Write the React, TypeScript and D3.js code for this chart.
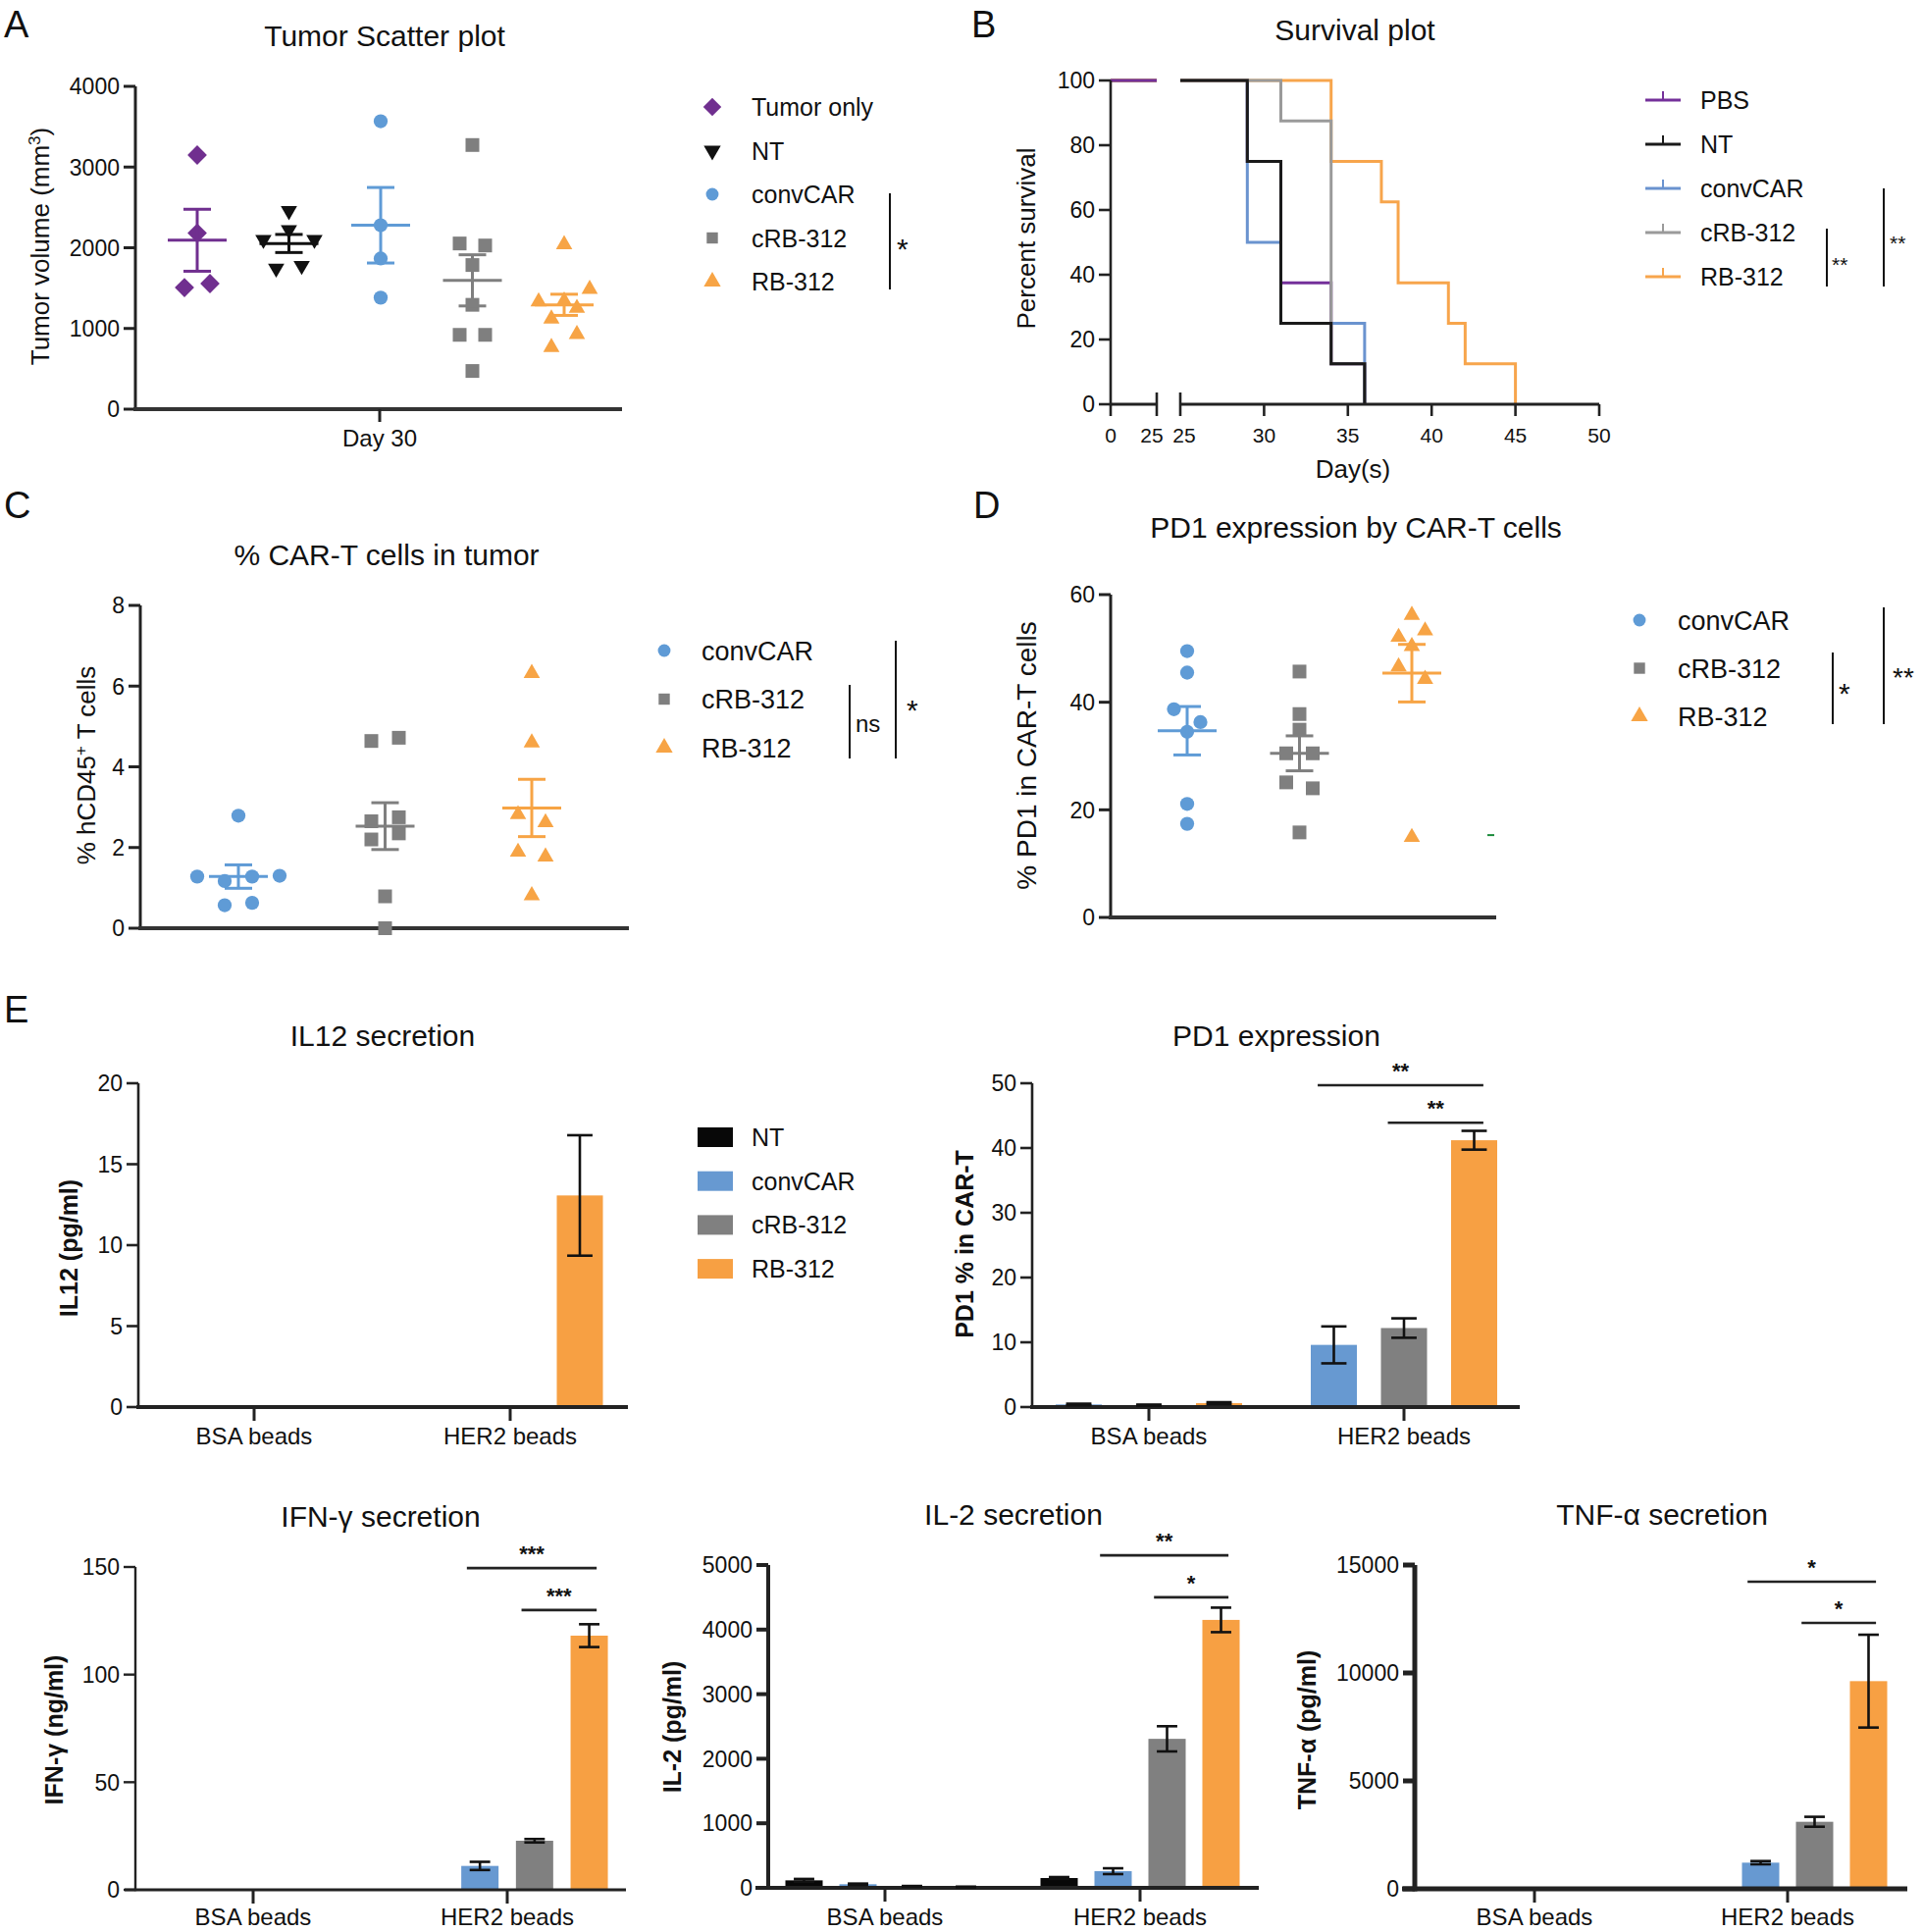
import React from "react";
import * as d3 from "d3";

const FONT = "'Liberation Sans', Arial, Helvetica, sans-serif";

// ---------------- Panel A: tumor volume ----------------
const groupsA = ["Tumor only", "NT", "convCAR", "cRB-312", "RB-312"];
const volTumorOnly = [3149, 2182, 1507, 1556];
const volNT = [2457, 2101, 2222, 2101, 1745, 1778];
const volConvCAR = [3568, 2279, 1867, 1382];
const volCRB = [3273, 2053, 2028, 1786, 1293, 921, 921, 473];
const volRB = [2040, 1333, 1341, 1487, 1119, 1252, 768, 929];
const volMean = [2093, 2053, 2279, 1596, 1293];
const volSem = [384, 112, 468, 317, 131];
const ticksA = [0, 1000, 2000, 3000, 4000];
const catA = ["Day 30"];

// ---------------- Panel B: survival ----------------
const survGroups = ["PBS", "NT", "convCAR", "cRB-312", "RB-312"];
const survDaysPBS = [0, 29, 31, 34, 36];
const survPctPBS = [100, 75, 37.5, 12.5, 0];
const survDaysNT = [0, 29, 31, 34, 36];
const survPctNT = [100, 75, 25, 12.5, 0];
const survDaysConv = [0, 29, 31, 36];
const survPctConv = [100, 50, 25, 0];
const survDaysCRB = [0, 31, 34, 36];
const survPctCRB = [100, 87.5, 12.5, 0];
const survDaysRB = [0, 34, 37, 38, 41, 42, 45];
const survPctRB = [100, 75, 62.5, 37.5, 25, 12.5, 0];
const ticksBY = [0, 20, 40, 60, 80, 100];
const ticksBX1 = [0, 25];
const ticksBX2 = [25, 30, 35, 40, 45, 50];

// ---------------- Panel C: % CAR-T ----------------
const groupsCD = ["convCAR", "cRB-312", "RB-312"];
const cd45Conv = [2.79, 1.28, 1.17, 1.28, 1.3, 0.57, 0.63];
const cd45CRB = [4.64, 4.72, 2.65, 2.75, 2.2, 2.35, 0.79, 0];
const cd45RB = [6.32, 4.6, 2.82, 2.62, 1.89, 1.77, 0.81];
const cd45Mean = [1.28, 2.53, 2.98];
const cd45Sem = [0.29, 0.58, 0.71];
const ticksC = [0, 2, 4, 6, 8];

// ---------------- Panel D: PD1 in vivo ----------------
const pd1Conv = [49.5, 45.5, 38.7, 36.3, 34.5, 21.1, 17.4];
const pd1CRB = [45.7, 37.8, 34.9, 30.5, 30.5, 25.1, 24.0, 15.8];
const pd1RB = [56.2, 52.1, 53.3, 50.4, 46.6, 44.3, 14.9];
const pd1Mean = [34.7, 30.5, 45.4];
const pd1Sem = [4.5, 3.25, 5.35];
const pd1Stray = [15.3];
const ticksD = [0, 20, 40, 60];

// ---------------- Panel E: bars ----------------
const beadCats = ["BSA beads", "HER2 beads"];
const series4 = ["NT", "convCAR", "cRB-312", "RB-312"];
const series3 = ["convCAR", "cRB-312", "RB-312"];

const il12Bsa = [0, 0, 0];
const il12Her2 = [0, 0, 13.07];
const il12BsaSem = [0, 0, 0];
const il12Her2Sem = [0, 0, 3.72];
const ticksIL12 = [0, 5, 10, 15, 20];

const pd1vBsa = [0.4, 0.3, 0.6];
const pd1vHer2 = [9.6, 12.2, 41.2];
const pd1vBsaSem = [0.12, 0.08, 0.15];
const pd1vHer2Sem = [2.85, 1.5, 1.45];
const ticksPD1 = [0, 10, 20, 30, 40, 50];
const sigPD1 = [["convCAR", "RB-312", "**", 49.7], ["cRB-312", "RB-312", "**", 43.9]];

const ifnBsa = [0, 0, 0, 0];
const ifnHer2 = [0, 11.1, 22.8, 118.1];
const ifnBsaSem = [0, 0, 0, 0];
const ifnHer2Sem = [0, 1.9, 0.8, 5.3];
const ticksIFN = [0, 50, 100, 150];
const sigIFN = [["convCAR", "RB-312", "***", 149.5], ["cRB-312", "RB-312", "***", 130]];

const il2Bsa = [116, 56, 25, 15];
const il2Her2 = [152, 258, 2308, 4150];
const il2BsaSem = [22, 10, 4, 3];
const il2Her2Sem = [15, 45, 195, 190];
const ticksIL2 = [0, 1000, 2000, 3000, 4000, 5000];
const sigIL2 = [["convCAR", "RB-312", "**", 5150], ["cRB-312", "RB-312", "*", 4500]];

const tnfBsa = [0, 0, 0, 0];
const tnfHer2 = [0, 1212, 3106, 9621];
const tnfBsaSem = [0, 0, 0, 0];
const tnfHer2Sem = [0, 75, 230, 2150];
const ticksTNF = [0, 5000, 10000, 15000];
const sigTNF = [["convCAR", "RB-312", "*", 14230], ["cRB-312", "RB-312", "*", 12320]];

// ---------------- styles ----------------
const COL: Record<string, string> = {
  "Tumor only": "#702f8f",
  PBS: "#7a3496",
  NT: "#111111",
  convCAR: "#5f9bd6",
  "cRB-312": "#7f7f7f",
  "RB-312": "#f7a445",
};
const SURV_COL: Record<string, string> = {
  PBS: "#74309a",
  NT: "#1a1a1a",
  convCAR: "#6a93cf",
  "cRB-312": "#9a9a9a",
  "RB-312": "#f7a54c",
};
const BAR_COL: Record<string, string> = {
  NT: "#080808",
  convCAR: "#6799d1",
  "cRB-312": "#808080",
  "RB-312": "#f7a043",
};
const AX = "#222";

function symPath(kind: string, size: number) {
  const t =
    kind === "circle" ? d3.symbolCircle : kind === "square" || kind === "diamond" ? d3.symbolSquare : d3.symbolTriangle;
  return d3.symbol().type(t).size(size)() as string;
}

function Marker({ kind, x, y, color, size }: any) {
  const rot = kind === "diamond" ? 45 : kind === "down" ? 180 : 0;
  return <path d={symPath(kind, size)} transform={`translate(${x},${y}) rotate(${rot})`} fill={color} />;
}

function rowOffsets(values: number[], y: (v: number) => number, thr: number) {
  const idx = values.map((_, i) => i).sort((a, b) => values[b] - values[a]);
  const rows: number[][] = [];
  let cur: number[] = [];
  let firstY = 0;
  for (const i of idx) {
    const py = y(values[i]);
    if (cur.length && Math.abs(py - firstY) < thr) cur.push(i);
    else {
      if (cur.length) rows.push(cur);
      cur = [i];
      firstY = py;
    }
  }
  if (cur.length) rows.push(cur);
  const off = new Array(values.length).fill(0);
  rows.forEach((r) => {
    const s = [...r].sort((a, b) => a - b);
    s.forEach((i, k) => (off[i] = k - (s.length - 1) / 2));
  });
  return off;
}

function ScatterGroup({ values, mean, sem, cx, y, color, kind, size, spacing, thr, meanHW = 30, capHW = 14, sw = 3 }: any) {
  const off = rowOffsets(values, y, thr);
  return (
    <g>
      {values.map((v: number, i: number) => (
        <Marker key={i} kind={kind} x={cx + off[i] * spacing} y={y(v)} color={color} size={size} />
      ))}
      <line x1={cx - meanHW} x2={cx + meanHW} y1={y(mean)} y2={y(mean)} stroke={color} strokeWidth={sw} />
      <line x1={cx} x2={cx} y1={y(mean - sem)} y2={y(mean + sem)} stroke={color} strokeWidth={sw} />
      <line x1={cx - capHW} x2={cx + capHW} y1={y(mean + sem)} y2={y(mean + sem)} stroke={color} strokeWidth={sw} />
      <line x1={cx - capHW} x2={cx + capHW} y1={y(mean - sem)} y2={y(mean - sem)} stroke={color} strokeWidth={sw} />
    </g>
  );
}

function YAxis({ x, y, ticks, fs = 23, tickLen = 12, sw = 3, labelGap = 4, color = AX, tickSw }: any) {
  const [r0, r1] = y.range();
  return (
    <g>
      <line x1={x} x2={x} y1={r0 + sw / 2} y2={r1} stroke={color} strokeWidth={sw} />
      {ticks.map((t: number) => (
        <g key={t}>
          <line x1={x - tickLen} x2={x} y1={y(t)} y2={y(t)} stroke={color} strokeWidth={tickSw || sw} />
          <text x={x - tickLen - labelGap} y={y(t)} dy="0.36em" textAnchor="end" fontSize={fs} fill="#111">
            {t}
          </text>
        </g>
      ))}
    </g>
  );
}

function YLabel({ x, y, text, fs = 26, bold = false }: any) {
  return (
    <text
      transform={`translate(${x},${y}) rotate(-90)`}
      textAnchor="middle"
      dy="0.36em"
      fontSize={fs}
      fontWeight={bold ? "bold" : "normal"}
      fill="#111"
    >
      {text}
    </text>
  );
}

function Title({ x, y, text, fs = 30 }: any) {
  return (
    <text x={x} y={y} textAnchor="middle" fontSize={fs} fill="#111">
      {text}
    </text>
  );
}

function Letter({ x, y, t }: any) {
  return (
    <text x={x} y={y} fontSize={38} fill="#111">
      {t}
    </text>
  );
}

function VBracket({ x, y1, y2, label, lx, ly, fs = 22 }: any) {
  return (
    <g>
      <line x1={x} x2={x} y1={y1} y2={y2} stroke="#111" strokeWidth={2} />
      <text x={lx} y={ly} fontSize={fs} fill="#111">
        {label}
      </text>
    </g>
  );
}

// ---------------- bar panels ----------------
function BarPanel({
  series, bsa, her2, bsaSem, her2Sem, cats, catRange, step, bw, y, ticks, xAxis, yAxisX,
  axisSw, xSw, sig, capFrac = 0.55, fs = 23, catFs = 24, catY, tickLen = 12,
}: any) {
  const xc = d3.scalePoint().domain(cats).range(catRange);
  const n = series.length;
  const p = 1 - bw / step;
  const xi = d3
    .scaleBand()
    .domain(series)
    .range([(-n * step) / 2, (n * step) / 2])
    .paddingInner(p)
    .paddingOuter(p / 2);
  const vals = [bsa, her2];
  const sems = [bsaSem, her2Sem];
  const y0 = y(0);
  return (
    <g>
      {cats.map((c: string, ci: number) =>
        series.map((s: string, si: number) => {
          const v = vals[ci][si];
          if (v <= 0) return null;
          const x = (xc(c) as number) + (xi(s) as number);
          return <rect key={c + s} x={x} width={xi.bandwidth()} y={y(v)} height={y0 - y(v)} fill={BAR_COL[s]} />;
        })
      )}
      <YAxis x={yAxisX} y={y} ticks={ticks} fs={fs} sw={axisSw} tickLen={tickLen} />
      <line x1={xAxis[0]} x2={xAxis[1]} y1={y0} y2={y0} stroke={AX} strokeWidth={xSw} />
      {cats.map((c: string) => (
        <g key={c}>
          <line x1={xc(c)} x2={xc(c)} y1={y0} y2={y0 + tickLen + 2} stroke={AX} strokeWidth={Math.min(xSw, 3)} />
          <text x={xc(c)} y={catY} textAnchor="middle" fontSize={catFs} fill="#111">
            {c}
          </text>
        </g>
      ))}
      {cats.map((c: string, ci: number) =>
        series.map((s: string, si: number) => {
          const v = vals[ci][si];
          const e = sems[ci][si];
          if (!(e > 0)) return null;
          const cx = (xc(c) as number) + (xi(s) as number) + xi.bandwidth() / 2;
          const hw = (xi.bandwidth() * capFrac) / 2;
          return (
            <g key={"e" + c + s} stroke="#111" strokeWidth={2.6}>
              <line x1={cx} x2={cx} y1={y(v - e)} y2={y(v + e)} />
              <line x1={cx - hw} x2={cx + hw} y1={y(v + e)} y2={y(v + e)} />
              <line x1={cx - hw} x2={cx + hw} y1={y(v - e)} y2={y(v - e)} />
            </g>
          );
        })
      )}
      {(sig || []).map((sg: any, k: number) => {
        const her = cats[1];
        const cA = (xc(her) as number) + (xi(sg[0]) as number) + xi.bandwidth() * 0.15;
        const cB = (xc(her) as number) + (xi(sg[1]) as number) + xi.bandwidth() * 0.7;
        const yy = y(sg[3]);
        return (
          <g key={"s" + k}>
            <line x1={cA} x2={cB} y1={yy} y2={yy} stroke="#222" strokeWidth={2.6} />
            <text x={(cA + cB) / 2} y={yy - 7} textAnchor="middle" fontSize={22} fontWeight="bold" fill="#111">
              {sg[2]}
            </text>
          </g>
        );
      })}
    </g>
  );
}

function survPoints(days: number[], pcts: number[], lo: number, hi: number) {
  const at = (d: number) => {
    let v = pcts[0];
    days.forEach((dd, i) => {
      if (dd <= d) v = pcts[i];
    });
    return v;
  };
  const pts: [number, number][] = [[lo, at(lo)]];
  days.forEach((d, i) => {
    if (d > lo && d <= hi) pts.push([d, pcts[i]]);
  });
  if (pts[pts.length - 1][0] < hi) pts.push([hi, at(hi)]);
  return pts;
}

export default function App() {
  // ---------- Panel A ----------
  const yA = d3.scaleLinear().domain([0, 4000]).range([417, 88]);
  const xA = d3.scalePoint().domain(groupsA).range([201, 575]);
  const dataA = [volTumorOnly, volNT, volConvCAR, volCRB, volRB];
  const kindsA = ["diamond", "down", "circle", "square", "triangle"];
  const sizesA = [196, 120, 160, 196, 120];

  // ---------- Panel B ----------
  const yB = d3.scaleLinear().domain([0, 100]).range([412, 82]);
  const xB1 = d3.scaleLinear().domain([0, 25]).range([1132, 1179]);
  const xB2 = d3.scaleLinear().domain([25, 50]).range([1203, 1630]);
  const survData: Record<string, [number[], number[]]> = {
    PBS: [survDaysPBS, survPctPBS],
    NT: [survDaysNT, survPctNT],
    convCAR: [survDaysConv, survPctConv],
    "cRB-312": [survDaysCRB, survPctCRB],
    "RB-312": [survDaysRB, survPctRB],
  };
  const seg1Order = ["NT", "convCAR", "cRB-312", "RB-312", "PBS"];
  const seg2Order = ["PBS", "convCAR", "RB-312", "cRB-312", "NT"];
  const lineB1 = d3.line<[number, number]>().x((d) => xB1(d[0])).y((d) => yB(d[1])).curve(d3.curveStepAfter);
  const lineB2 = d3.line<[number, number]>().x((d) => xB2(d[0])).y((d) => yB(d[1])).curve(d3.curveStepAfter);

  // ---------- Panel C ----------
  const yC = d3.scaleLinear().domain([0, 8]).range([946, 617]);
  const xC = d3.scalePoint().domain(groupsCD).range([243, 542]);
  const dataC = [cd45Conv, cd45CRB, cd45RB];
  const kindsCD = ["circle", "square", "triangle"];
  const sizesCD = [160, 196, 120];

  // ---------- Panel D ----------
  const yD = d3.scaleLinear().domain([0, 60]).range([935, 606]);
  const xD = d3.scalePoint().domain(groupsCD).range([1210, 1439]);
  const dataD = [pd1Conv, pd1CRB, pd1RB];

  // ---------- Panel E ----------
  const yIL12 = d3.scaleLinear().domain([0, 20]).range([1434, 1104]);
  const yPD1 = d3.scaleLinear().domain([0, 50]).range([1434, 1104]);
  const yIFN = d3.scaleLinear().domain([0, 150]).range([1926, 1597]);
  const yIL2 = d3.scaleLinear().domain([0, 5000]).range([1924, 1595]);
  const yTNF = d3.scaleLinear().domain([0, 15000]).range([1925, 1595]);

  return (
    <svg
      width={1960}
      height={1969}
      viewBox="0 0 1960 1969"
      style={{ position: "absolute", left: 0, top: 0, background: "#fff" }}
      fontFamily={FONT}
    >
      <rect x={0} y={0} width={1960} height={1969} fill="#fff" />

      {/* ================= A ================= */}
      <Letter x={4} y={38} t="A" />
      <Title x={392} y={47} text="Tumor Scatter plot" />
      <YAxis x={138} y={yA} ticks={ticksA} />
      <line x1={136} x2={634} y1={417} y2={417} stroke="#333" strokeWidth={4} />
      <line x1={387} x2={387} y1={417} y2={430} stroke={AX} strokeWidth={3} />
      <text x={387} y={455} textAnchor="middle" fontSize={24} fill="#111">
        {catA[0]}
      </text>
      <YLabel x={41} y={251} text={<>Tumor volume (mm<tspan dy="-9" fontSize={17}>3</tspan><tspan dy="9">)</tspan></>} />
      {groupsA.map((g, i) => (
        <ScatterGroup
          key={g}
          values={dataA[i]}
          mean={volMean[i]}
          sem={volSem[i]}
          cx={xA(g)}
          y={yA}
          color={COL[g]}
          kind={kindsA[i]}
          size={sizesA[i]}
          spacing={26}
          thr={14}
        />
      ))}
      {groupsA.map((g, i) => (
        <g key={"la" + g}>
          <Marker kind={kindsA[i]} x={726} y={109 + i * 44.5} color={COL[g]} size={i === 0 ? 170 : 130} />
          <text x={766} y={109 + i * 44.5} dy="0.36em" fontSize={25} fill="#111">
            {g}
          </text>
        </g>
      ))}
      <VBracket x={907} y1={197} y2={295} label="*" lx={914} ly={264} fs={30} />

      {/* ================= B ================= */}
      <Letter x={990} y={38} t="B" />
      <Title x={1381} y={41} text="Survival plot" />
      {seg1Order.map((g) => (
        <path
          key={"s1" + g}
          d={lineB1(survPoints(survData[g][0], survData[g][1], 0, 25)) as string}
          fill="none"
          stroke={SURV_COL[g]}
          strokeWidth={3}
        />
      ))}
      {seg2Order.map((g) => {
        const days = survData[g][0];
        const pts = survPoints(days, survData[g][1], 25, days[days.length - 1]);
        return <path key={"s2" + g} d={lineB2(pts) as string} fill="none" stroke={SURV_COL[g]} strokeWidth={3} />;
      })}
      <YAxis x={1132} y={yB} ticks={ticksBY} sw={2.6} />
      <line x1={1132} x2={1179} y1={412} y2={412} stroke={AX} strokeWidth={3} />
      <line x1={1203} x2={1630} y1={412} y2={412} stroke={AX} strokeWidth={3} />
      {ticksBX1.map((t, i) => (
        <g key={"bx1" + t}>
          <line x1={xB1(t)} x2={xB1(t)} y1={i === 1 ? 400 : 412} y2={424} stroke={AX} strokeWidth={2.6} />
          <text x={xB1(t) - (i === 1 ? 5 : 0)} y={451} textAnchor="middle" fontSize={21} fill="#111">
            {t}
          </text>
        </g>
      ))}
      {ticksBX2.map((t, i) => (
        <g key={"bx2" + t}>
          <line x1={xB2(t)} x2={xB2(t)} y1={i === 0 ? 400 : 412} y2={424} stroke={AX} strokeWidth={2.6} />
          <text x={xB2(t) + (i === 0 ? 4 : 0)} y={451} textAnchor="middle" fontSize={21} fill="#111">
            {t}
          </text>
        </g>
      ))}
      <text x={1379} y={487} textAnchor="middle" fontSize={26} fill="#111">
        Day(s)
      </text>
      <YLabel x={1046} y={243} text="Percent survival" />
      {survGroups.map((g, i) => {
        const yy = 102 + i * 45;
        return (
          <g key={"lb" + g}>
            <line x1={1677} x2={1713} y1={yy} y2={yy} stroke={SURV_COL[g]} strokeWidth={3} />
            <line x1={1695} x2={1695} y1={yy} y2={yy - 9} stroke={SURV_COL[g]} strokeWidth={2} />
            <text x={1733} y={yy} dy="0.36em" fontSize={25} fill="#111">
              {g}
            </text>
          </g>
        );
      })}
      <VBracket x={1862} y1={233} y2={292} label="**" lx={1867} ly={277} fs={21} />
      <VBracket x={1920} y1={192} y2={292} label="**" lx={1926} ly={255} fs={21} />

      {/* ================= C ================= */}
      <Letter x={4} y={528} t="C" />
      <Title x={394} y={576} text="% CAR-T cells in tumor" />
      <YAxis x={143} y={yC} ticks={ticksC} />
      <line x1={141} x2={641} y1={946} y2={946} stroke="#333" strokeWidth={4} />
      <YLabel
        x={88}
        y={780}
        text={<>% hCD45<tspan dy="-9" fontSize={17}>+</tspan><tspan dy="9"> T cells</tspan></>}
      />
      {groupsCD.map((g, i) => (
        <ScatterGroup
          key={"c" + g}
          values={dataC[i]}
          mean={cd45Mean[i]}
          sem={cd45Sem[i]}
          cx={xC(g)}
          y={yC}
          color={COL[g]}
          kind={kindsCD[i]}
          size={sizesCD[i]}
          spacing={28}
          thr={14}
        />
      ))}
      {groupsCD.map((g, i) => (
        <g key={"lc" + g}>
          <Marker kind={kindsCD[i]} x={677} y={663 + i * 49.5} color={COL[g]} size={130} />
          <text x={715} y={663 + i * 49.5} dy="0.36em" fontSize={27} fill="#111">
            {g}
          </text>
        </g>
      ))}
      <VBracket x={866} y1={698} y2={773} label="ns" lx={872} ly={746} fs={24} />
      <VBracket x={913} y1={653} y2={773} label="*" lx={924} ly={734} fs={30} />

      {/* ================= D ================= */}
      <Letter x={992} y={528} t="D" />
      <Title x={1382} y={548} text="PD1 expression by CAR-T cells" />
      <YAxis x={1132} y={yD} ticks={ticksD} />
      <line x1={1130} x2={1525} y1={935} y2={935} stroke="#333" strokeWidth={4} />
      <YLabel x={1046} y={770} text="% PD1 in CAR-T cells" fs={28} />
      {groupsCD.map((g, i) => (
        <ScatterGroup
          key={"d" + g}
          values={dataD[i]}
          mean={pd1Mean[i]}
          sem={pd1Sem[i]}
          cx={xD(g)}
          y={yD}
          color={COL[g]}
          kind={kindsCD[i]}
          size={sizesCD[i]}
          spacing={27}
          thr={14}
        />
      ))}
      {pd1Stray.map((v, i) => (
        <line key={"st" + i} x1={1516} x2={1523} y1={yD(v)} y2={yD(v)} stroke="#1a8a3a" strokeWidth={2} />
      ))}
      {groupsCD.map((g, i) => (
        <g key={"ld" + g}>
          <Marker kind={kindsCD[i]} x={1671} y={632 + i * 49} color={COL[g]} size={130} />
          <text x={1710} y={632 + i * 49} dy="0.36em" fontSize={27} fill="#111">
            {g}
          </text>
        </g>
      ))}
      <VBracket x={1868} y1={665} y2={738} label="*" lx={1874} ly={717} fs={30} />
      <VBracket x={1920} y1={619} y2={738} label="**" lx={1929} ly={700} fs={28} />

      {/* ================= E ================= */}
      <Letter x={4} y={1042} t="E" />
      <Title x={390} y={1066} text="IL12 secretion" />
      <BarPanel
        series={series3}
        bsa={il12Bsa}
        her2={il12Her2}
        bsaSem={il12BsaSem}
        her2Sem={il12Her2Sem}
        cats={beadCats}
        catRange={[259, 520]}
        step={71}
        bw={47}
        y={yIL12}
        ticks={ticksIL12}
        xAxis={[139, 640]}
        yAxisX={141}
        axisSw={2.6}
        xSw={4}
        catY={1472}
      />
      <YLabel x={70} y={1272} text="IL12 (pg/ml)" fs={25} bold />
      {series4.map((s, i) => (
        <g key={"le" + s}>
          <rect x={711} y={1149 + i * 44.7} width={36} height={20} fill={BAR_COL[s]} />
          <text x={766} y={1159 + i * 44.7} dy="0.36em" fontSize={25} fill="#111">
            {s}
          </text>
        </g>
      ))}

      <Title x={1301} y={1066} text="PD1 expression" />
      <BarPanel
        series={series3}
        bsa={pd1vBsa}
        her2={pd1vHer2}
        bsaSem={pd1vBsaSem}
        her2Sem={pd1vHer2Sem}
        cats={beadCats}
        catRange={[1171, 1431]}
        step={71.5}
        bw={47}
        y={yPD1}
        ticks={ticksPD1}
        xAxis={[1050, 1549]}
        yAxisX={1052}
        axisSw={2.6}
        xSw={4}
        catY={1472}
        sig={sigPD1}
      />
      <YLabel x={983} y={1268} text="PD1 % in CAR-T" fs={25} bold />

      <Title x={388} y={1556} text="IFN-γ secretion" />
      <BarPanel
        series={series4}
        bsa={ifnBsa}
        her2={ifnHer2}
        bsaSem={ifnBsaSem}
        her2Sem={ifnHer2Sem}
        cats={beadCats}
        catRange={[258, 517]}
        step={55.7}
        bw={38}
        y={yIFN}
        ticks={ticksIFN}
        xAxis={[127, 638]}
        yAxisX={138}
        axisSw={2.4}
        xSw={3}
        catY={1962}
        sig={sigIFN}
      />
      <YLabel x={55} y={1763} text="IFN-γ (ng/ml)" fs={25} bold />

      <Title x={1033} y={1554} text="IL-2 secretion" />
      <BarPanel
        series={series4}
        bsa={il2Bsa}
        her2={il2Her2}
        bsaSem={il2BsaSem}
        her2Sem={il2Her2Sem}
        cats={beadCats}
        catRange={[902, 1162]}
        step={55}
        bw={38}
        y={yIL2}
        ticks={ticksIL2}
        xAxis={[770, 1283]}
        yAxisX={783}
        axisSw={4}
        xSw={4}
        catY={1962}
        sig={sigIL2}
      />
      <YLabel x={685} y={1760} text="IL-2 (pg/ml)" fs={25} bold />

      <Title x={1694} y={1554} text="TNF-α secretion" />
      <BarPanel
        series={series4}
        bsa={tnfBsa}
        her2={tnfHer2}
        bsaSem={tnfBsaSem}
        her2Sem={tnfHer2Sem}
        cats={beadCats}
        catRange={[1564, 1822]}
        step={55}
        bw={38}
        y={yTNF}
        ticks={ticksTNF}
        xAxis={[1429, 1944]}
        yAxisX={1442}
        axisSw={5}
        xSw={5}
        catY={1962}
        sig={sigTNF}
      />
      <YLabel x={1332} y={1763} text="TNF-α (pg/ml)" fs={25} bold />
    </svg>
  );
}
